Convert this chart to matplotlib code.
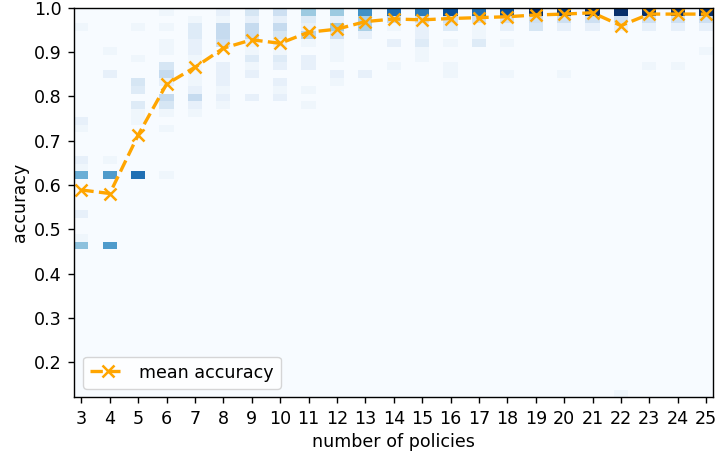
import matplotlib
matplotlib.use("Agg")
import matplotlib.pyplot as plt
import numpy as np

plt.rcParams["font.size"] = 12.6
plt.rcParams["axes.linewidth"] = 1.0
plt.rcParams["xtick.major.size"] = 4.4
plt.rcParams["ytick.major.size"] = 4.4
plt.rcParams["xtick.major.width"] = 1.0
plt.rcParams["ytick.major.width"] = 1.0
plt.rcParams["xtick.major.pad"] = 4.4
plt.rcParams["ytick.major.pad"] = 4.4

# mean accuracy for each number of policies
n_policies = list(range(3, 26))
mean_acc = [0.589, 0.581, 0.713, 0.828, 0.866, 0.909, 0.928, 0.920, 0.945, 0.952,
            0.969, 0.975, 0.973, 0.976, 0.978, 0.980, 0.984, 0.986, 0.989, 0.960,
            0.986, 0.986, 0.986]

# individual runs, grouped: number of policies, accuracy reached, how many runs
run_policies = (
    [3] * 9 + [4] * 5 + [5] * 8 + [6] * 12 + [7] * 13 + [8] * 11 + [9] * 10
    + [10] * 11 + [11] * 9 + [12] * 9 + [13] * 5 + [14] * 5 + [15] * 7 + [16] * 6
    + [17] * 5 + [18] * 5 + [19] * 3 + [20] * 4 + [21] * 3 + [22] * 4 + [23] * 4
    + [24] * 4 + [25] * 4
)
run_accuracy = [
    0.956, 0.745, 0.728, 0.657, 0.640, 0.622, 0.534, 0.481, 0.464,           # 3
    0.903, 0.851, 0.657, 0.622, 0.464,                                       # 4
    0.956, 0.886, 0.833, 0.815, 0.780, 0.763, 0.745, 0.622,                  # 5
    1.0, 0.956, 0.921, 0.903, 0.868, 0.851, 0.833, 0.798, 0.780, 0.763, 0.728, 0.622,  # 6
    0.974, 0.956, 0.938, 0.921, 0.903, 0.886, 0.868, 0.851, 0.833, 0.815, 0.798, 0.780, 0.763,  # 7
    1.0, 0.974, 0.956, 0.938, 0.921, 0.868, 0.851, 0.833, 0.815, 0.798, 0.780,  # 8
    1.0, 0.974, 0.956, 0.938, 0.921, 0.903, 0.886, 0.868, 0.851, 0.798,      # 9
    1.0, 0.974, 0.956, 0.938, 0.921, 0.903, 0.886, 0.868, 0.833, 0.815, 0.798,  # 10
    1.0, 0.974, 0.956, 0.938, 0.921, 0.886, 0.868, 0.815, 0.780,             # 11
    1.0, 0.974, 0.956, 0.938, 0.921, 0.903, 0.886, 0.851, 0.833,             # 12
    1.0, 0.974, 0.956, 0.938, 0.851,                                         # 13
    1.0, 0.974, 0.956, 0.921, 0.868,                                         # 14
    1.0, 0.974, 0.956, 0.938, 0.921, 0.903, 0.886,                           # 15
    1.0, 0.974, 0.956, 0.921, 0.868, 0.851,                                  # 16
    1.0, 0.974, 0.956, 0.938, 0.921,                                         # 17
    1.0, 0.974, 0.956, 0.921, 0.851,                                         # 18
    1.0, 0.974, 0.956,                                                       # 19
    1.0, 0.974, 0.956, 0.851,                                                # 20
    1.0, 0.974, 0.956,                                                       # 21
    1.0, 0.974, 0.956, 0.130,                                                # 22
    1.0, 0.974, 0.956, 0.868,                                                # 23
    1.0, 0.974, 0.956, 0.868,                                                # 24
    1.0, 0.974, 0.956, 0.903,                                                # 25
]
run_count = [
    1, 2, 1, 2, 1, 12, 2, 1, 10,
    1, 2, 1, 14, 14,
    1, 1, 4, 3, 3, 1, 1, 18,
    1, 1, 1, 1, 4, 6, 2, 6, 4, 1, 1, 1,
    1, 3, 3, 2, 2, 1, 1, 1, 1, 2, 6, 2, 1,
    2, 1, 6, 6, 5, 2, 2, 2, 1, 2, 1,
    4, 2, 6, 6, 2, 1, 3, 1, 2, 2,
    5, 2, 6, 4, 2, 1, 3, 2, 2, 1, 2,
    9, 3, 2, 7, 1, 2, 2, 1, 1,
    9, 2, 9, 5, 1, 1, 1, 2, 1,
    15, 8, 8, 2, 2,
    18, 6, 1, 2, 1,
    17, 5, 2, 2, 3, 1, 1,
    21, 5, 3, 1, 1, 1,
    18, 5, 1, 1, 3,
    21, 5, 2, 1, 1,
    24, 5, 4,
    23, 5, 2, 1,
    24, 5, 2,
    24, 5, 2, 1,
    24, 5, 2, 1,
    24, 5, 2, 1,
    24, 5, 2, 1,
]

fig = plt.figure(figsize=(7.17, 4.58), dpi=100)
ax = fig.add_axes([0.1036, 0.1325, 0.8912, 0.8503])

# half-unit bins along x so each policy count gets its own narrow column
x_edges = np.arange(2.75, 25.26, 0.5)
y_edges = np.linspace(0.121, 1.0, 51)
ax.hist2d(run_policies, run_accuracy, bins=[x_edges, y_edges],
          weights=run_count, cmap="Blues")

ax.plot(n_policies, mean_acc, "--x", color="orange", lw=2.4, ms=8, mew=1.8,
        label="mean accuracy")

ax.set_xticks(n_policies)
ax.set_xlim(2.75, 25.25)
ax.set_ylim(0.121, 1.0)
ax.set_xlabel("number of policies")
ax.set_ylabel("accuracy")
ax.legend(loc="lower left")

fig.savefig("out.png", dpi=100)
